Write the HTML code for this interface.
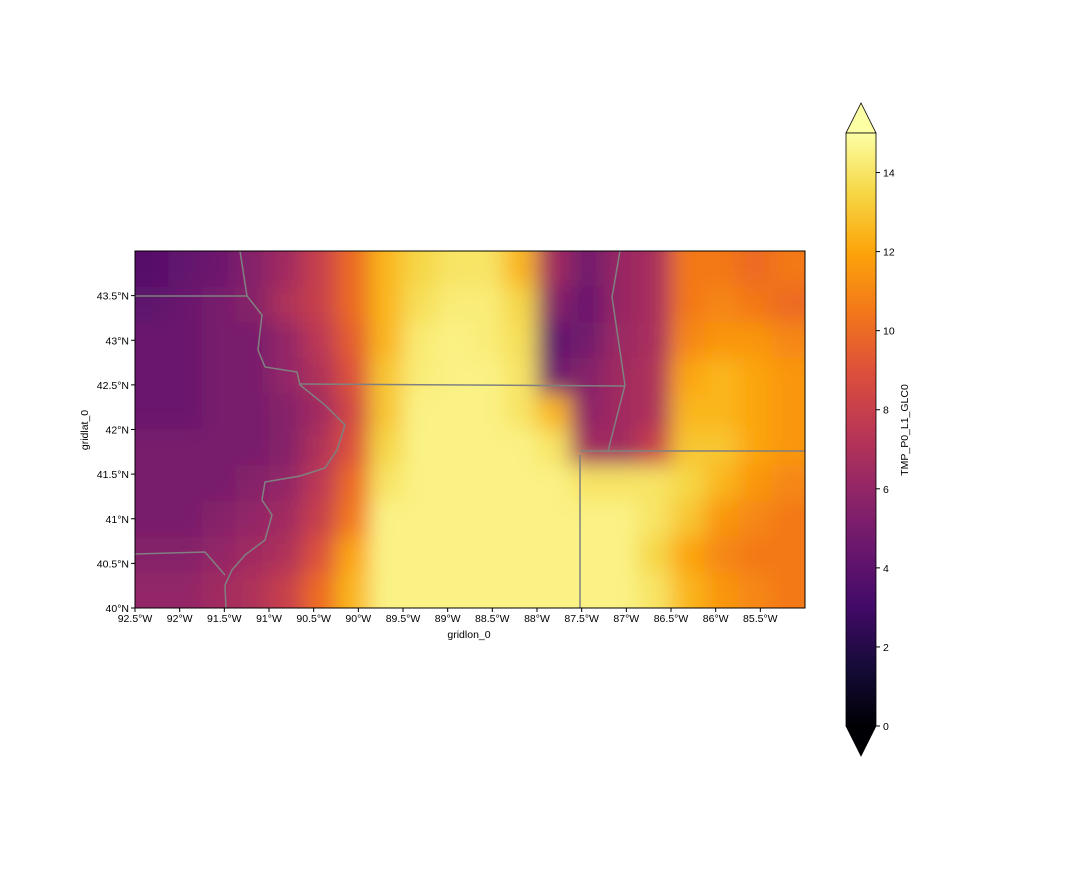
<!DOCTYPE html>
<html><head><meta charset="utf-8"><style>
body{margin:0;background:#fff;}
svg text{font-family:"Liberation Sans",sans-serif;font-size:10.5px;fill:#000;}
</style></head><body>
<svg id="chart" width="1080" height="864" viewBox="0 0 1080 864" xmlns="http://www.w3.org/2000/svg">
<defs>
<clipPath id="mapclip"><rect x="135" y="251" width="670" height="357"/></clipPath>
<filter id="soft" filterUnits="userSpaceOnUse" x="80" y="200" width="780" height="460"><feGaussianBlur stdDeviation="11"/></filter>
<linearGradient id="cbgrad" x1="0" y1="1" x2="0" y2="0">
<stop offset="0" stop-color="#000004"/><stop offset="0.1" stop-color="#160b39"/><stop offset="0.2" stop-color="#420a68"/><stop offset="0.3" stop-color="#6a176e"/><stop offset="0.4" stop-color="#932667"/><stop offset="0.5" stop-color="#bc3754"/><stop offset="0.6" stop-color="#dd513a"/><stop offset="0.7" stop-color="#f37819"/><stop offset="0.8" stop-color="#fca50a"/><stop offset="0.9" stop-color="#f6d746"/><stop offset="1" stop-color="#fcffa4"/>
</linearGradient>
</defs>
<g clip-path="url(#mapclip)">
<g id="cells" filter="url(#soft)"></g>
</g>
<g id="borders" clip-path="url(#mapclip)" fill="none" stroke="#808080" stroke-width="1.5">
<polyline points="240,251 247,296 262,315 258,350 265,367 297,372 300,385 325,405 345,425 337,450 325,468 300,476 265,482 262,500 272,515 265,540 245,555 232,570 225,585 226,608"/>
<polyline points="135,296 247,296"/>
<polyline points="300,384 625,386"/>
<polyline points="620,251 612,297 625,385 608,451"/>
<polyline points="580,455 580,608"/>
<polyline points="580,451 805,451"/>
<polyline points="135,554 205,552 225,575"/>
</g>
<rect x="135" y="251" width="670" height="357" fill="none" stroke="#000" stroke-width="1"/>
<g id="xaxis"></g>
<g id="yaxis"></g>
<text x="469" y="638" text-anchor="middle">gridlon_0</text>
<text transform="translate(88,430) rotate(-90)" text-anchor="middle">gridlat_0</text>
<g>
<polygon points="846,133 876,133 861,103" fill="#fcffa4" stroke="#000" stroke-width="0.8"/>
<polygon points="846,726 876,726 861,756" fill="#000004" stroke="#000" stroke-width="0.8"/>
<rect x="846" y="133" width="30" height="593" fill="url(#cbgrad)" stroke="#000" stroke-width="0.8"/>
<g id="cbticks"></g>
<text transform="translate(908,430) rotate(-90)" text-anchor="middle">TMP_P0_L1_GLC0</text>
</g>
</svg>
<script>
const lonTicks = [-92.5,-92,-91.5,-91,-90.5,-90,-89.5,-89,-88.5,-88,-87.5,-87,-86.5,-86,-85.5];
const latTicks = [40,40.5,41,41.5,42,42.5,43,43.5];
const cbTicks = [0,2,4,6,8,10,12,14];
const temps = [
[3.8,4.2,4.6,5.5,6.5,8,10,12.5,13.5,14,14,12.5,6.5,4.8,6.2,6.8,10.5,10.5,10,10.5],
[4,4.5,5,5.5,7,8,10,12.5,13.8,14.3,14.3,13.5,5.5,4.5,6.2,6.8,10.5,11,10.5,10],
[4.5,4.5,5,5,6,7.5,9.5,12.5,14.2,14.5,14.3,13.8,4.2,4.8,6.3,6.8,11,11.5,11.5,11],
[4.5,4.5,5,5,6,7,9,13,14.3,14.5,14.5,14,4.8,5.5,6.5,7,12,12.5,12,11.5],
[4.5,4.5,5,5,5.5,6.5,8.5,13,14.5,14.5,14.5,14,12.5,5.8,6.5,7,12.5,12.5,12,11.5],
[5,5,5,5,5.5,7,9,13.5,14.5,14.5,14.5,14.5,14,6.5,6.5,8,13,13,12,11.5],
[5,5,5,5.5,6,7.5,10,14,14.5,14.5,14.5,14.5,14.5,14,14,14,13.5,12.5,11.5,11],
[5,5,5.5,6,6.5,8,10.5,14.5,14.5,14.5,14.5,14.5,14.5,14.5,14.5,14,13,11.5,11,10.5],
[5.5,5.5,6,6.5,7,9,12,14.5,14.5,14.5,14.5,14.5,14.5,14.5,14.5,13.5,12,11,10.5,10.5],
[6,6,6.5,7,8,10,12.5,14.5,14.5,14.5,14.5,14.5,14.5,14.5,14.5,14,12.5,11.5,11,10.5]
];
const X0=135,X1=805,Y0=251,Y1=608,LON0=-92.5,LON1=-85.0,LAT0=40,LAT1=44.0,VMIN=0,VMAX=15,CB0=726,CB1=133;
const xs=lon=>X0+(lon-LON0)/(LON1-LON0)*(X1-X0);
const ys=lat=>Y1-(lat-LAT0)/(LAT1-LAT0)*(Y1-Y0);
const cs=v=>CB0-(v-VMIN)/(VMAX-VMIN)*(CB0-CB1);
const stops=[[0,0,4],[22,11,57],[66,10,104],[106,23,110],[147,38,103],[188,55,84],[221,81,58],[243,120,25],[252,165,10],[246,215,70],[252,255,164]];
function inferno(v){let t=Math.max(0,Math.min(1,(v-VMIN)/(VMAX-VMIN)))*10;let i=Math.min(9,Math.floor(t)),f=t-i;const a=stops[i],b=stops[i+1];return `rgb(${a.map((c,k)=>Math.round(c+(b[k]-c)*f)).join(',')})`;}
const NS='http://www.w3.org/2000/svg';
const cells=document.getElementById('cells');
const rows=temps.length,cols=temps[0].length;
const dLon=(LON1-LON0)/cols,dLat=(LAT1-LAT0)/rows;
temps.forEach((row,r)=>row.forEach((v,c)=>{
  const rc=document.createElementNS(NS,'rect');
  const x=xs(LON0+c*dLon),y=ys(LAT1-r*dLat);
  const pad=30;
  const x0=c===0?x-pad:x, y0=r===0?y-pad:y;
  const x1=c===cols-1?xs(LON0+(c+1)*dLon)+pad:xs(LON0+(c+1)*dLon)+0.6;
  const y1=r===rows-1?ys(LAT1-(r+1)*dLat)+pad:ys(LAT1-(r+1)*dLat)+0.6;
  rc.setAttribute('x',x0);rc.setAttribute('y',y0);
  rc.setAttribute('width',x1-x0);rc.setAttribute('height',y1-y0);
  rc.setAttribute('fill',inferno(v));
  
  
  cells.appendChild(rc);
}));
const xa=document.getElementById('xaxis');
lonTicks.forEach(l=>{
  const x=xs(l);
  const ln=document.createElementNS(NS,'line');ln.setAttribute('x1',x);ln.setAttribute('x2',x);ln.setAttribute('y1',608);ln.setAttribute('y2',612);ln.setAttribute('stroke','#000');
  
  
  xa.appendChild(ln);
  const t=document.createElementNS(NS,'text');t.setAttribute('x',x);t.setAttribute('y',622);t.setAttribute('text-anchor','middle');
  t.textContent=Math.abs(l)+'°W';
  
  
  xa.appendChild(t);
});
const ya=document.getElementById('yaxis');
latTicks.forEach(l=>{
  const y=ys(l);
  const ln=document.createElementNS(NS,'line');ln.setAttribute('x1',131);ln.setAttribute('x2',135);ln.setAttribute('y1',y);ln.setAttribute('y2',y);ln.setAttribute('stroke','#000');
  
  
  ya.appendChild(ln);
  const t=document.createElementNS(NS,'text');t.setAttribute('x',129);t.setAttribute('y',y+4);t.setAttribute('text-anchor','end');
  t.textContent=l+'°N';
  
  
  ya.appendChild(t);
});
const cb=document.getElementById('cbticks');
cbTicks.forEach(v=>{
  const y=cs(v);
  const ln=document.createElementNS(NS,'line');ln.setAttribute('x1',876);ln.setAttribute('x2',880);ln.setAttribute('y1',y);ln.setAttribute('y2',y);ln.setAttribute('stroke','#000');
  
  
  cb.appendChild(ln);
  const t=document.createElementNS(NS,'text');t.setAttribute('x',883);t.setAttribute('y',y+4);
  t.textContent=v;
  
  
  cb.appendChild(t);
});
</script>
</body></html>
